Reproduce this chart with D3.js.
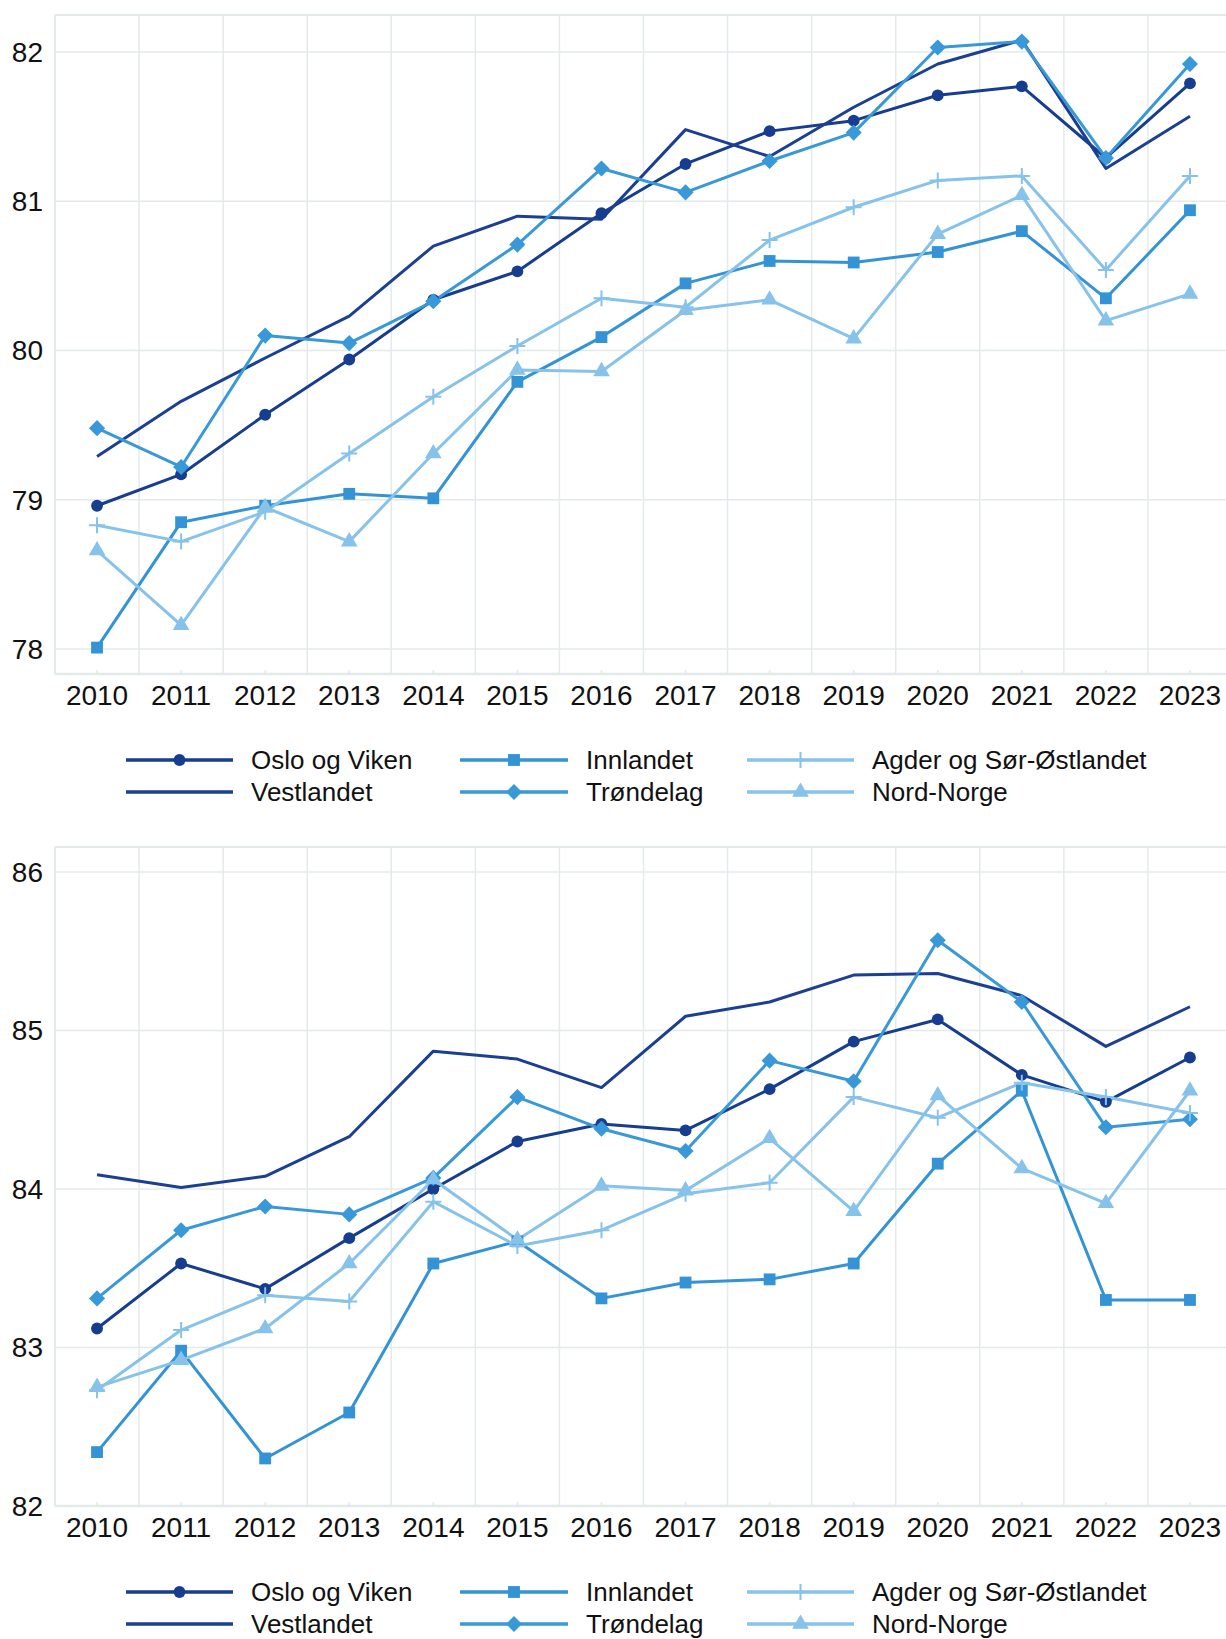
<!DOCTYPE html>
<html>
<head>
<meta charset="utf-8">
<script src="https://cdn.jsdelivr.net/npm/d3@7"></script>
<style>
  body { margin: 0; background: #fff; }
  svg { display: block; font-family: "Liberation Sans", Arial, sans-serif; }
</style>
</head>
<body>
<svg id="chart" width="1226" height="1639"></svg>
<script>
const years = [2010, 2011, 2012, 2013, 2014, 2015, 2016, 2017, 2018, 2019, 2020, 2021, 2022, 2023];

const regions = ["Oslo og Viken", "Vestlandet", "Innlandet", "Trøndelag", "Agder og Sør-Østlandet", "Nord-Norge"];
const colors = ["#163d8e", "#1b3f92", "#3393d5", "#3898d8", "#86c2ea", "#86c2ea"];
const symbols = ["circle", "none", "square", "diamond", "plus", "triangle"];

// top chart
const oslo1 = [78.96, 79.17, 79.57, 79.94, 80.34, 80.53, 80.92, 81.25, 81.47, 81.54, 81.71, 81.77, 81.29, 81.79];
const vest1 = [79.29, 79.66, 79.95, 80.23, 80.70, 80.90, 80.88, 81.48, 81.30, 81.63, 81.92, 82.08, 81.22, 81.57];
const innl1 = [78.01, 78.85, 78.96, 79.04, 79.01, 79.79, 80.09, 80.45, 80.60, 80.59, 80.66, 80.80, 80.35, 80.94];
const trond1 = [79.48, 79.22, 80.10, 80.05, 80.33, 80.71, 81.22, 81.06, 81.27, 81.46, 82.03, 82.07, 81.29, 81.92];
const agder1 = [78.83, 78.72, 78.92, 79.31, 79.69, 80.03, 80.35, 80.29, 80.74, 80.96, 81.14, 81.17, 80.54, 81.17];
const nord1 = [78.66, 78.16, 78.95, 78.72, 79.31, 79.87, 79.86, 80.27, 80.34, 80.08, 80.78, 81.04, 80.20, 80.38];

// bottom chart
const oslo2 = [83.12, 83.53, 83.37, 83.69, 84.00, 84.30, 84.41, 84.37, 84.63, 84.93, 85.07, 84.72, 84.55, 84.83];
const vest2 = [84.09, 84.01, 84.08, 84.33, 84.87, 84.82, 84.64, 85.09, 85.18, 85.35, 85.36, 85.22, 84.90, 85.15];
const innl2 = [82.34, 82.98, 82.30, 82.59, 83.53, 83.67, 83.31, 83.41, 83.43, 83.53, 84.16, 84.62, 83.30, 83.30];
const trond2 = [83.31, 83.74, 83.89, 83.84, 84.07, 84.58, 84.38, 84.24, 84.81, 84.68, 85.57, 85.18, 84.39, 84.44];
const agder2 = [82.73, 83.11, 83.33, 83.29, 83.92, 83.64, 83.74, 83.97, 84.04, 84.58, 84.45, 84.67, 84.58, 84.48];
const nord2 = [82.75, 82.92, 83.12, 83.53, 84.06, 83.68, 84.02, 83.99, 84.32, 83.86, 84.59, 84.13, 83.91, 84.62];

const yTicks1 = [78, 79, 80, 81, 82];
const yTicks2 = [82, 83, 84, 85, 86];

const svg = d3.select("#chart");
const gridColor = "#e4eaeb";

function drawMarker(g, kind, color, x, y) {
  if (kind === "none") return;
  if (kind === "plus") {
    g.append("path")
      .attr("d", `M${x - 8},${y}H${x + 8}M${x},${y - 8}V${y + 8}`)
      .attr("stroke", color)
      .attr("stroke-width", 2)
      .attr("fill", "none");
    return;
  }
  let type = { circle: d3.symbolCircle, square: d3.symbolSquare, diamond: d3.symbolSquare, triangle: d3.symbolTriangle }[kind];
  let size = { circle: 110, square: 140, diamond: 130, triangle: 120 }[kind];
  g.append("path")
    .attr("d", d3.symbol().type(type).size(size)())
    .attr("transform", `translate(${x},${y})` + (kind === "diamond" ? " rotate(45)" : ""))
    .attr("fill", color);
}

function drawChart(series, domain, top, bottom, ticks) {
  let left = 55, right = 1232;
  let x = d3.scaleBand().domain(years).range([left, right]);
  let y = d3.scaleLinear().domain(domain).range([bottom, top]);
  let g = svg.append("g");

  // horizontal gridlines
  g.selectAll("line.y")
    .data(ticks)
    .enter().append("line")
    .attr("x1", left).attr("x2", right)
    .attr("y1", d => y(d)).attr("y2", d => y(d))
    .style("stroke", gridColor).style("stroke-width", 1.5);

  // vertical gridlines at band edges
  g.selectAll("line.x")
    .data(years)
    .enter().append("line")
    .attr("x1", d => x(d)).attr("x2", d => x(d))
    .attr("y1", top).attr("y2", bottom)
    .style("stroke", gridColor).style("stroke-width", 1.5);

  // small ticks at year centres
  g.selectAll("line.tick")
    .data(years)
    .enter().append("line")
    .attr("x1", d => x(d) + x.bandwidth() / 2).attr("x2", d => x(d) + x.bandwidth() / 2)
    .attr("y1", bottom - 4).attr("y2", bottom)
    .style("stroke", gridColor).style("stroke-width", 1.5);

  // frame
  g.append("line").attr("x1", left).attr("x2", right).attr("y1", top).attr("y2", top)
    .style("stroke", gridColor).style("stroke-width", 2);
  g.append("line").attr("x1", left).attr("x2", right).attr("y1", bottom).attr("y2", bottom)
    .style("stroke", gridColor).style("stroke-width", 2.5);
  g.append("line").attr("x1", left).attr("x2", left).attr("y1", top).attr("y2", bottom)
    .style("stroke", gridColor).style("stroke-width", 2);

  // y labels
  g.selectAll("text.y")
    .data(ticks)
    .enter().append("text")
    .attr("x", 43)
    .attr("y", d => y(d))
    .attr("dy", "0.35em")
    .attr("text-anchor", "end")
    .style("font-size", "28px")
    .style("fill", "#111")
    .text(d => d);

  // x labels
  g.selectAll("text.x")
    .data(years)
    .enter().append("text")
    .attr("x", d => x(d) + x.bandwidth() / 2)
    .attr("y", bottom + 31)
    .attr("text-anchor", "middle")
    .style("font-size", "28px")
    .style("fill", "#111")
    .text(d => d);

  let line = d3.line()
    .x((d, i) => x(years[i]) + x.bandwidth() / 2)
    .y(d => y(d));

  series.forEach((vals, s) => {
    g.append("path")
      .attr("d", line(vals))
      .style("stroke", colors[s])
      .style("stroke-width", "3px")
      .style("stroke-linejoin", "round")
      .style("fill", "none");
  });
  series.forEach((vals, s) => {
    vals.forEach((v, i) => {
      drawMarker(g, symbols[s], colors[s], x(years[i]) + x.bandwidth() / 2, y(v));
    });
  });

  // legend
  let cols = [{ l: 126, r: 233, t: 251 }, { l: 460, r: 568, t: 586 }, { l: 747, r: 854, t: 872 }];
  let order = [[0, 0, 0], [1, 0, 1], [2, 1, 0], [3, 1, 1], [4, 2, 0], [5, 2, 1]];
  order.forEach(([s, c, r]) => {
    let ly = bottom + 86 + r * 32;
    let col = cols[c];
    g.append("line")
      .attr("x1", col.l).attr("x2", col.r)
      .attr("y1", ly).attr("y2", ly)
      .style("stroke", colors[s]).style("stroke-width", 3.5);
    drawMarker(g, symbols[s], colors[s], (col.l + col.r) / 2, ly);
    g.append("text")
      .attr("x", col.t)
      .attr("y", ly)
      .attr("dy", "0.35em")
      .style("font-size", "26px")
      .style("fill", "#111")
      .text(regions[s]);
  });
}

drawChart([oslo1, vest1, innl1, trond1, agder1, nord1], [77.833, 82.248], 15, 674, yTicks1);
drawChart([oslo2, vest2, innl2, trond2, agder2, nord2], [82, 86.158], 847, 1506, yTicks2);
</script>
</body>
</html>
